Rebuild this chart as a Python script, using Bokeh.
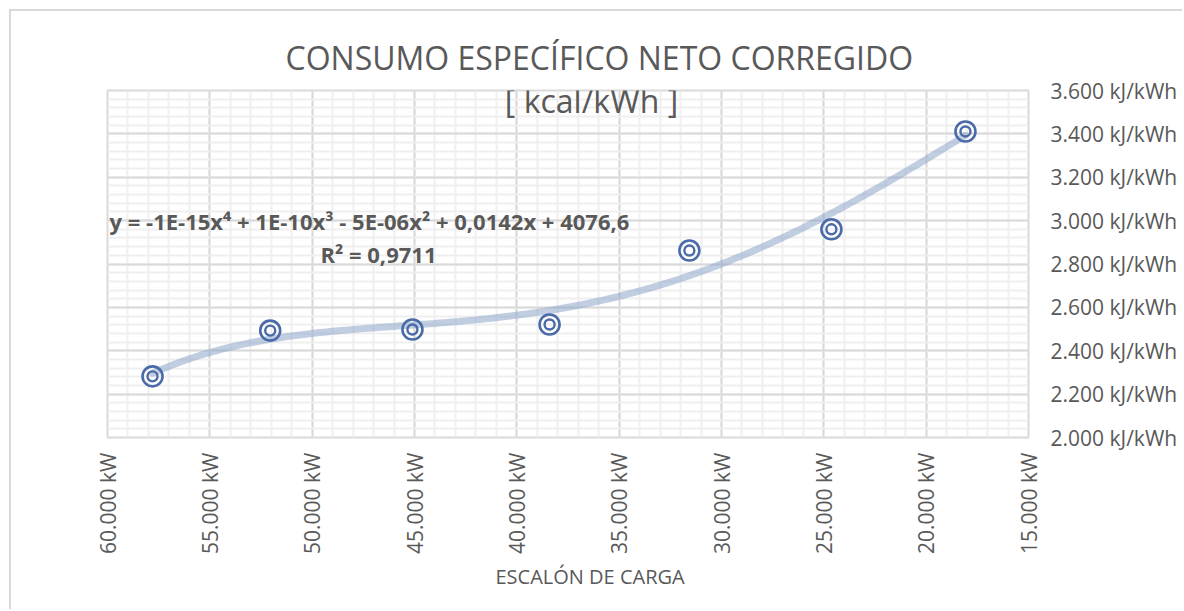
import math
import numpy as np
from bokeh.plotting import figure
from bokeh.models import Range1d, FixedTicker, Label, Title
from bokeh.embed import file_html
from bokeh.resources import INLINE

# ---- data ----
load_kw = [57800, 52050, 45100, 38400, 31570, 24630, 18080]
consumo = [2282, 2493, 2498, 2521, 2862, 2960, 3411]

x_ticks = [60000, 55000, 50000, 45000, 40000, 35000, 30000, 25000, 20000, 15000]
x_tick_labels = ["60.000 kW", "55.000 kW", "50.000 kW", "45.000 kW", "40.000 kW",
                 "35.000 kW", "30.000 kW", "25.000 kW", "20.000 kW", "15.000 kW"]
y_ticks = [2000, 2200, 2400, 2600, 2800, 3000, 3200, 3400, 3600]
y_tick_labels = ["2.000 kJ/kWh", "2.200 kJ/kWh", "2.400 kJ/kWh", "2.600 kJ/kWh",
                 "2.800 kJ/kWh", "3.000 kJ/kWh", "3.200 kJ/kWh", "3.400 kJ/kWh",
                 "3.600 kJ/kWh"]

title_1 = "CONSUMO ESPECÍFICO NETO CORREGIDO"
title_2 = "[ kcal/kWh ]"
x_title = "ESCALÓN DE CARGA"
eq_text = "y = -1E-15x⁴ + 1E-10x³ - 5E-06x² + 0,0142x + 4076,6"
r2_text = "R² = 0,9711"

FONT = "Open Sans"
TXT = "#595959"

p = figure(width=1173, height=600, output_backend="svg", toolbar_location=None,
           x_range=Range1d(60000, 15000), y_range=Range1d(2000, 3600),
           y_axis_location="right", title=title_1,
           min_border_left=96, min_border_right=156,
           min_border_top=79, min_border_bottom=174)
p.styles = {"margin-left": "9px", "margin-top": "9px",
            "border-top": "2px solid #d9d9d9", "border-left": "2px solid #d9d9d9"}

p.title.align = "left"
p.title.offset = 178
p.title.standoff = 23
p.title.text_font = FONT
p.title.text_font_size = "32px"
p.title.text_font_style = "normal"
p.title.text_color = TXT

p.outline_line_color = "#d9d9d9"
p.outline_line_width = 2

xminor = list(range(15000, 60001, 1000))
yminor = list(range(2000, 3601, 40))
p.xaxis.ticker = FixedTicker(ticks=x_ticks, minor_ticks=xminor)
p.yaxis.ticker = FixedTicker(ticks=y_ticks, minor_ticks=yminor)
p.xaxis.major_label_overrides = {t: l for t, l in zip(x_ticks, x_tick_labels)}
p.yaxis.major_label_overrides = {t: l for t, l in zip(y_ticks, y_tick_labels)}

for ax in (p.xaxis[0], p.yaxis[0]):
    ax.axis_line_color = None
    ax.major_tick_line_color = None
    ax.minor_tick_line_color = None
    ax.major_tick_out = 0
    ax.minor_tick_out = 0
    ax.major_label_text_font = FONT
    ax.major_label_text_font_size = "21px"
    ax.major_label_text_color = TXT
p.xaxis.major_label_orientation = math.pi / 2
p.xaxis.major_label_standoff = 15
p.yaxis.major_label_standoff = 22

p.add_layout(Title(text=x_title, align="left", offset=388, standoff=8,
                   text_font=FONT, text_font_size="20px",
                   text_font_style="normal", text_color=TXT), "below")

p.xgrid.grid_line_color = "#d9d9d9"
p.ygrid.grid_line_color = "#d9d9d9"
p.xgrid.grid_line_width = 2
p.ygrid.grid_line_width = 2
p.xgrid.minor_grid_line_color = "#efefef"
p.ygrid.minor_grid_line_color = "#efefef"
p.xgrid.minor_grid_line_width = 2
p.ygrid.minor_grid_line_width = 2
p.xgrid.level = "underlay"
p.ygrid.level = "underlay"

# polynomial (order 4) trend line fitted to the points
xs = np.array(load_kw, dtype=float)
ys = np.array(consumo, dtype=float)
xc = xs / 10000.0
coef = np.polyfit(xc, ys, 4)
xd = np.linspace(xs.min(), xs.max(), 200)
yd = np.polyval(coef, xd / 10000.0)
p.line(xd, yd, line_color="#8ea5cb", line_alpha=0.55, line_width=7, line_cap="round")

# double-circle markers
p.scatter(load_kw, consumo, marker="circle", size=20, fill_color=None,
          line_color="#4a6aa8", line_width=2.6)
p.scatter(load_kw, consumo, marker="circle", size=10, fill_color=None,
          line_color="#4a6aa8", line_width=2.4)

p.add_layout(Label(x=36352, y=3554, text=title_2, text_align="center",
                   text_baseline="middle", text_font=FONT,
                   text_font_size="32px", text_color=TXT))
p.add_layout(Label(x=59900, y=3000, text=eq_text, text_align="left",
                   text_baseline="middle", text_font=FONT,
                   text_font_size="22px", text_font_style="bold", text_color=TXT))
p.add_layout(Label(x=43927, y=2844, text=r2_text, text_align="right",
                   text_baseline="middle", text_font=FONT,
                   text_font_size="22px", text_font_style="bold", text_color=TXT))

open("out.html", "w").write(file_html(p, INLINE))
